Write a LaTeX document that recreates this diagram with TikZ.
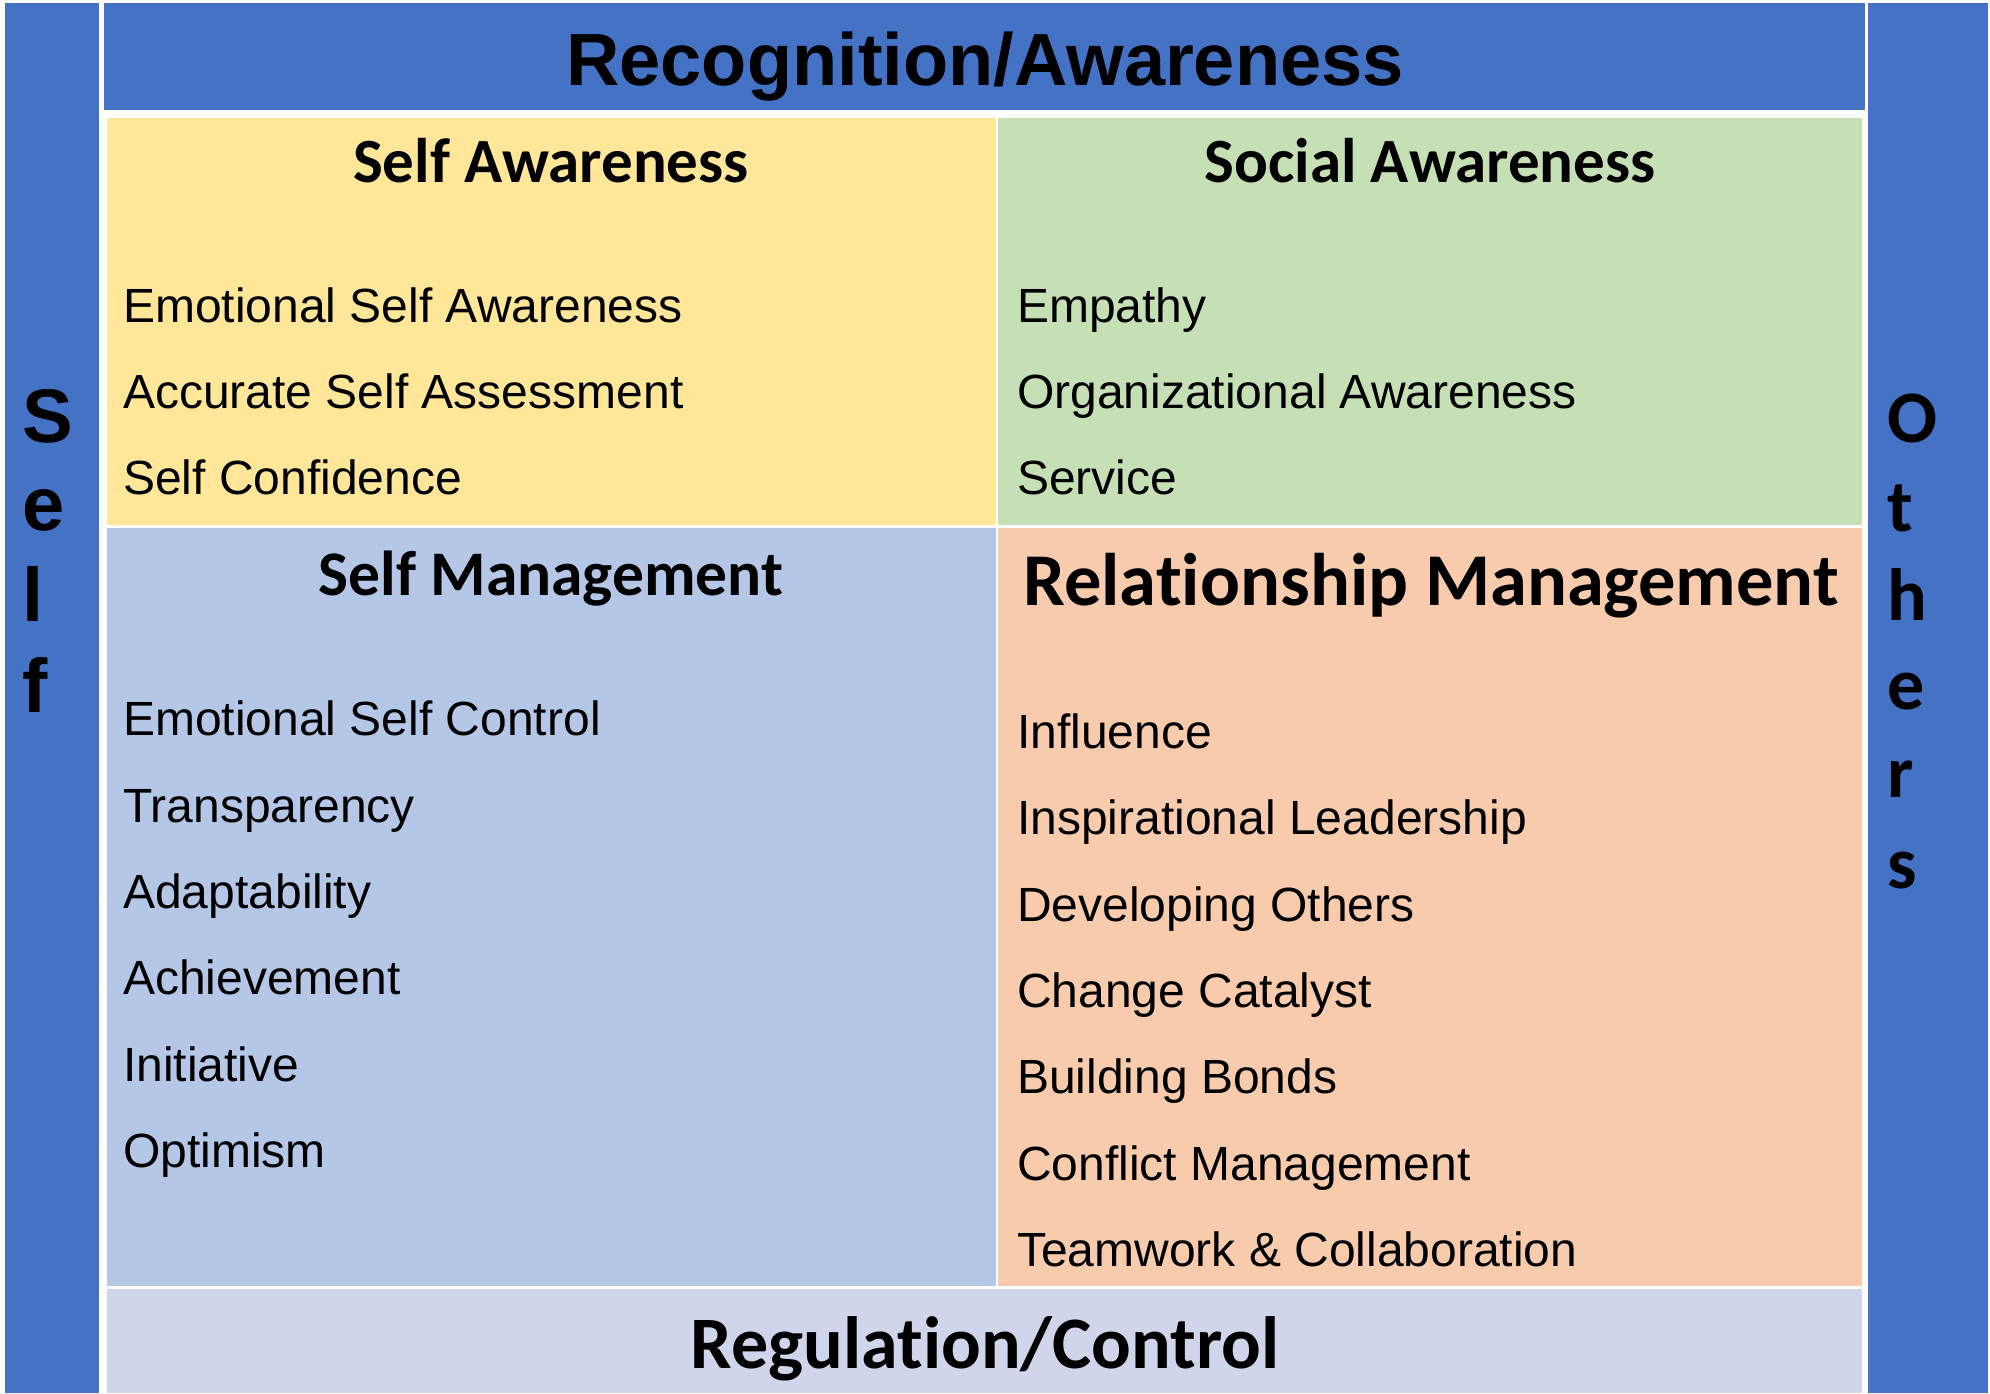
\documentclass[tikz,border=0pt]{standalone}
\usepackage{fontspec}
\newfontfamily\arialfont{Liberation Sans}
\newfontfamily\calibrifont[Ligatures=NoCommon]{Carlito}
\definecolor{barblue}{HTML}{4472C4}
\definecolor{sayellow}{HTML}{FFE699}
\definecolor{socgreen}{HTML}{C5E0B4}
\definecolor{smblue}{HTML}{B4C7E7}
\definecolor{rmpeach}{HTML}{F8CBAD}
\definecolor{reglav}{HTML}{CFD5EA}
\tikzset{
  panel/.style={fill=#1, draw=none},
  item/.style={anchor=base west, inner sep=0pt, font=\arialfont\fontsize{48}{58}\selectfont},
  heading/.style={anchor=base, inner sep=0pt, font=\calibrifont\bfseries\fontsize{#1}{#1}\selectfont},
  sideletter/.style={anchor=base west, inner sep=0pt, font=#1},
}
\begin{document}
\begin{tikzpicture}[x=1pt, y=-1pt]
\useasboundingbox[fill=white] (0,0) rectangle (1990,1393);

% frame bars
\fill[barblue] (5,3) rectangle (99,1393);
\fill[barblue] (104,3) rectangle (1865,110);
\fill[barblue] (1868,3) rectangle (1988,1393);

% quadrants
\fill[panel=sayellow] (107,118) rectangle (996,525);
\fill[panel=socgreen] (998,118) rectangle (1862,525);
\fill[panel=smblue]   (107,528) rectangle (996,1286);
\fill[panel=rmpeach]  (998,528) rectangle (1862,1286);
\fill[panel=reglav]   (107,1289) rectangle (1862,1393);

% top and bottom captions
\node[anchor=base, inner sep=0pt, font=\arialfont\bfseries\fontsize{74}{74}\selectfont] (recog) at (985,85) {Recognition/Awareness};
\node[heading=74] (regul) at (985,1368) {Regulation/Control};

% quadrant headings
\node[heading=63] (sahead) at (551,182) {Self Awareness};
\node[heading=63] (sochead) at (1430,182) {Social Awareness};
\node[heading=63.5] (smhead) at (551,595) {Self Management};
\node[heading=74.5] (rmhead) at (1431,605) {Relationship Management};

% self awareness
\node[item] (sa1) at (123,322) {Emotional Self Awareness};
\node[item] (sa2) at (123,408) {Accurate Self Assessment};
\node[item] (sa3) at (123,494) {Self Confidence};

% social awareness
\node[item] (so1) at (1017,322) {Empathy};
\node[item] (so2) at (1017,408) {Organizational Awareness};
\node[item] (so3) at (1017,494) {Service};

% self management
\node[item] (sm1) at (123,735) {Emotional Self Control};
\node[item] (sm2) at (123,822) {Transparency};
\node[item] (sm3) at (123,908) {Adaptability};
\node[item] (sm4) at (123,994) {Achievement};
\node[item] (sm5) at (123,1081) {Initiative};
\node[item] (sm6) at (123,1167) {Optimism};

% relationship management
\node[item] (rm1) at (1017,748) {Influence};
\node[item] (rm2) at (1017,834) {Inspirational Leadership};
\node[item] (rm3) at (1017,921) {Developing Others};
\node[item] (rm4) at (1017,1007) {Change Catalyst};
\node[item] (rm5) at (1017,1093) {Building Bonds};
\node[item] (rm6) at (1017,1180) {Conflict Management};
\node[item] (rm7) at (1017,1266) {Teamwork \& Collaboration};

% vertical side words
\foreach \ch/\yy [count=\i] in {S/442, e/530, l/621, f/712}
  \node[sideletter=\arialfont\bfseries\fontsize{76}{76}\selectfont] (self\i) at (22,\yy) {\ch};
\foreach \ch/\yy [count=\i] in {O/442, t/531, h/620, e/709, r/797, s/888}
  \node[sideletter=\calibrifont\bfseries\fontsize{74}{74}\selectfont] (oth\i) at (1887,\yy) {\ch};
\end{tikzpicture}
\end{document}
